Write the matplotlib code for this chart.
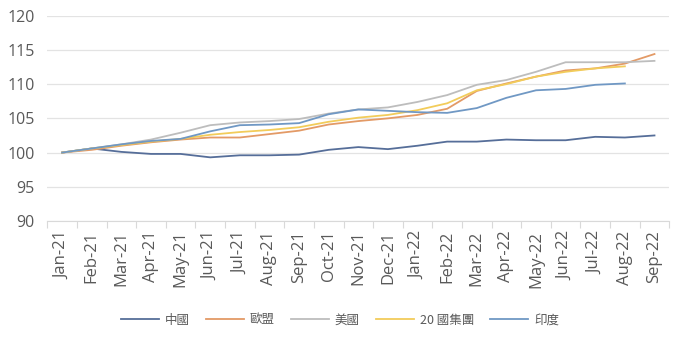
import matplotlib
matplotlib.use("Agg")
import matplotlib.pyplot as plt
import numpy as np

plt.rcParams['font.family'] = ['Open Sans', 'Noto Sans CJK TC', 'DejaVu Sans']

months = ["Jan-21", "Feb-21", "Mar-21", "Apr-21", "May-21", "Jun-21", "Jul-21",
          "Aug-21", "Sep-21", "Oct-21", "Nov-21", "Dec-21", "Jan-22", "Feb-22",
          "Mar-22", "Apr-22", "May-22", "Jun-22", "Jul-22", "Aug-22", "Sep-22"]

china = [100, 100.6, 100.1, 99.8, 99.8, 99.3, 99.6, 99.6, 99.7, 100.4, 100.8,
         100.5, 101.0, 101.6, 101.6, 101.9, 101.8, 101.8, 102.3, 102.2, 102.5]
eu = [100, 100.4, 101.0, 101.5, 101.9, 102.2, 102.2, 102.7, 103.2, 104.1, 104.6,
      105.0, 105.5, 106.4, 109.0, 110.1, 111.1, 112.0, 112.3, 113.0, 114.4]
us = [100, 100.6, 101.2, 101.9, 102.9, 104.0, 104.4, 104.6, 104.9, 105.7, 106.3,
      106.6, 107.4, 108.4, 109.9, 110.6, 111.8, 113.2, 113.2, 113.2, 113.4]
g20 = [100, 100.6, 101.1, 101.6, 102.0, 102.6, 103.0, 103.3, 103.7, 104.5, 105.1,
       105.5, 106.2, 107.2, 109.1, 110.0, 111.1, 111.8, 112.3, 112.6, None]
india = [100, 100.6, 101.2, 101.7, 102.0, 103.1, 104.0, 104.1, 104.3, 105.6, 106.3,
         106.1, 105.9, 105.8, 106.5, 108.0, 109.1, 109.3, 109.9, 110.1, None]

series = [("中國", china, "#566E99"),
          ("歐盟", eu, "#E39A66"),
          ("美國", us, "#BDBDBD"),
          ("20 國集團", g20, "#F2CC5A"),
          ("印度", india, "#7098C4")]

fig = plt.figure(figsize=(6.94, 3.46), dpi=100)
ax = fig.add_axes([0.0682, 0.3613, 0.8962, 0.5933])

x = np.arange(len(months))
for name, vals, col in series:
    v = np.array([np.nan if a is None else a for a in vals], dtype=float)
    ax.plot(x, v, color=col, lw=1.3, label=name)

ax.set_xlim(-0.5, len(months) - 0.5)
ax.set_ylim(90, 120)
ax.set_yticks(np.arange(90, 121, 5))
ax.set_xticks(x)
ax.set_xticklabels(months, rotation=90)
ax.set_xticks(np.arange(-0.5, len(months), 1), minor=True)
ax.tick_params(axis='x', which='major', length=0, pad=7, labelsize=12, colors='#595959')
ax.tick_params(axis='x', which='minor', length=5, color='#D9D9D9', width=0.8)
ax.tick_params(axis='y', length=0, pad=9, labelsize=11.5, colors='#595959')
ax.grid(axis='y', color='#E3E3E3', lw=0.9)
ax.set_axisbelow(True)
for s in ['top', 'right', 'left']:
    ax.spines[s].set_visible(False)
ax.spines['bottom'].set_color('#D9D9D9')
ax.spines['bottom'].set_linewidth(0.8)

leg = fig.legend(loc='center', bbox_to_anchor=(0.49, 0.075), ncol=5, frameon=False,
                 handlelength=3.0, columnspacing=1.3, handletextpad=0.5,
                 prop={'family': ['Noto Sans CJK TC', 'DejaVu Sans'], 'size': 9})
for t in leg.get_texts():
    t.set_color('#595959')

fig.savefig("out.png", dpi=100)
